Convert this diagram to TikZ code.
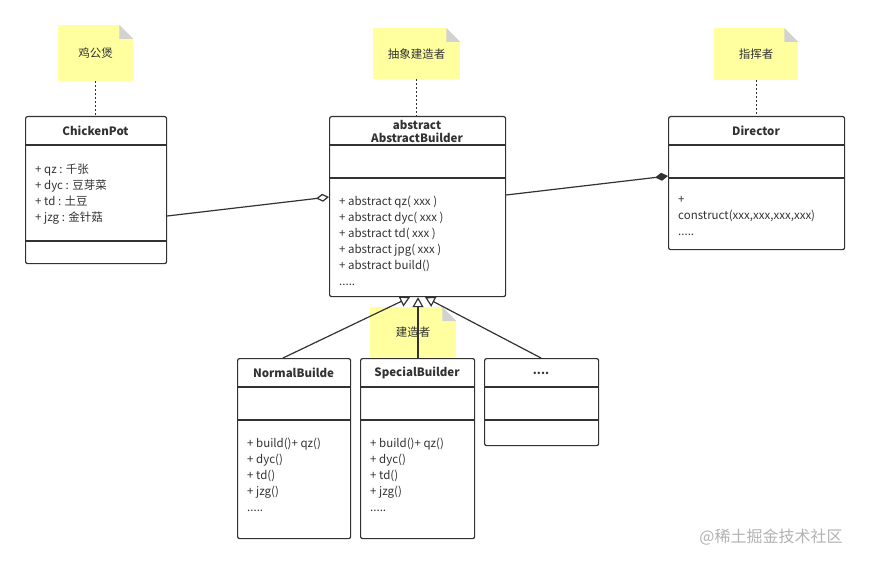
\documentclass[tikz,border=0pt]{standalone}
\usepackage{fontspec}
\setmainfont{Noto Sans CJK SC}
\usetikzlibrary{arrows.meta}
\definecolor{noteyellow}{RGB}{255,255,160}
\definecolor{foldgray}{RGB}{210,210,210}
\definecolor{linegray}{RGB}{50,50,50}

\tikzset{
  umlbox/.style={draw=linegray,line width=1.2pt,rounded corners=2pt,anchor=north west,inner sep=0pt},
  title/.style={font=\bfseries\fontsize{11.5}{13}\selectfont,text=linegray,align=center},
  members/.style={font=\fontsize{11.5}{16}\selectfont,text=linegray,align=left,anchor=north west,inner sep=0pt},
  notebox/.style={fill=noteyellow,anchor=north west,inner sep=0pt},
  notelink/.style={linegray,line width=1.4pt,dash pattern=on 2pt off 2pt},
  link/.style={linegray,line width=1.2pt}
}
% a yellow note with a folded corner
\newcommand{\umlnote}[6]{%
  \node[notebox,minimum width=#4pt,minimum height=#5pt] (#1) at (#2pt,-#3pt) {};
  \node[font=\fontsize{11.5}{13}\selectfont,text=linegray] at (#1.center) {#6};
  \fill[white] (#1.north east) -- ++(-14pt,0) -- ++(14pt,-14pt) -- cycle;
  \fill[foldgray] ([xshift=-14pt]#1.north east) -- ++(14pt,-14pt) -- ++(-14pt,0) -- cycle;
}
% a class box with two dividers
\newcommand{\umlclass}[8]{%
  \node[umlbox,minimum width=#4pt,minimum height=#5pt] (#1) at (#2pt,-#3pt) {};
  \draw[linegray,line width=1.2pt] (#2pt,-#3pt-29pt) -- ++(#4pt,0);
  \draw[linegray,line width=1.2pt] (#2pt,-#3pt-#6pt) -- ++(#4pt,0);
  \node[title] at (#2pt+#4pt/2,-#3pt-15pt) {#7};
  \node[members] at (#2pt+10pt,-#3pt-#6pt-18pt) {#8};
}

\begin{document}
\begin{tikzpicture}
  \useasboundingbox (0,0) rectangle (869pt,-564pt);

  % notes
  \umlnote{n1}{58}{25}{75}{56}{鸡公煲}
  \umlnote{n2}{373}{28}{87}{51}{抽象建造者}
  \umlnote{n3}{714}{28}{84}{52}{指挥者}
  \umlnote{n4}{370}{307}{86}{50}{建造者}

  % classes
  \umlclass{cp}{25}{116}{141}{147}{125}{ChickenPot}{}
  \node[members] at (35pt,-164pt) {+ qz : 千张\\+ dyc : 豆芽菜\\+ td : 土豆\\+ jzg : 金针菇};
  \umlclass{ab}{329}{116}{176}{180}{62}{abstract\\AbstractBuilder}{+ abstract qz( xxx )\\+ abstract dyc( xxx )\\+ abstract td( xxx )\\+ abstract jpg( xxx )\\+ abstract build()\\.....}
  \umlclass{dir}{668}{116}{176}{133}{62}{Director}{+\\construct(xxx,xxx,xxx,xxx)\\.....}
  \umlclass{nb}{237}{358}{113}{180}{62}{NormalBuilde}{+ build()+ qz()\\+ dyc()\\+ td()\\+ jzg()\\.....}
  \umlclass{sb}{360}{358}{114}{180}{62}{SpecialBuilder}{+ build()+ qz()\\+ dyc()\\+ td()\\+ jzg()\\.....}
  \umlclass{more}{484}{358}{114}{87}{62}{....}{}

  % note links
  \draw[notelink] (n1.south) -- (n1.south |- cp.north);
  \draw[notelink] (n2.south) -- (n2.south |- ab.north);
  \draw[notelink] (n3.south) -- (n3.south |- dir.north);

  % associations
  \draw[link,{Diamond[open,length=13pt,width=8pt]}-] ([yshift=-81pt]ab.north west) -- ([yshift=-100pt]cp.north east);
  \draw[link,{Diamond[length=13pt,width=8pt]}-] ([yshift=-60pt]dir.north west) -- ([yshift=-79pt]ab.north east);

  % generalisations
  \draw[link,-{Triangle[open,length=10pt,width=11pt]}] ([xshift=46pt]nb.north west) -- ([xshift=81pt]ab.south west);
  \draw[link,-{Triangle[open,length=10pt,width=11pt]}] ([xshift=58pt]sb.north west) -- ([xshift=89pt]ab.south west);
  \draw[link,-{Triangle[open,length=10pt,width=11pt]}] ([xshift=57pt]more.north west) -- ([xshift=96pt]ab.south west);

  \node[text=gray!60,font=\fontsize{16}{18}\selectfont] (wm) at (771pt,-537pt) {@稀土掘金技术社区};
\end{tikzpicture}
\end{document}
